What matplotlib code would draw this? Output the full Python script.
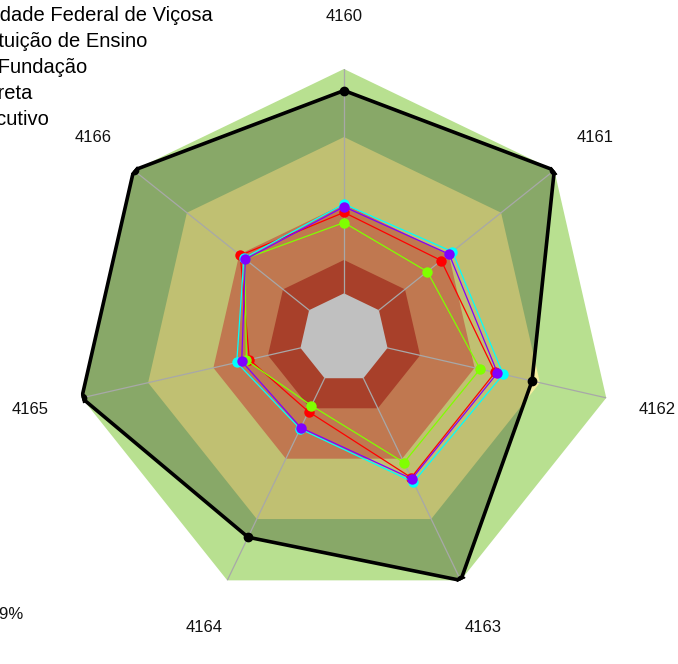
import numpy as np
import matplotlib
matplotlib.use("Agg")
import matplotlib.pyplot as plt
from matplotlib.lines import Line2D

plt.rcParams['font.family'] = ['Liberation Sans', 'DejaVu Sans']

# ---------------- data ----------------
categories = ['4160', '4161', '4162', '4163', '4164', '4165', '4166']

band_levels = [1.0, 0.747, 0.498, 0.29, 0.166]
band_colors = ['#B8E090', '#C0C072', '#C07850', '#A8402A', '#C0C0C0']

ufv = [0.92, 1.0, 0.717, 1.0, 0.822, 1.0, 1.0]
inst_ensino = [0.498, 0.515, 0.607, 0.595, 0.375, 0.409, 0.476]
fundacao = [0.488, 0.50, 0.585, 0.581, 0.37, 0.39, 0.469]
direta = [0.467, 0.462, 0.576, 0.576, 0.304, 0.361, 0.493]
executivo = [0.429, 0.396, 0.519, 0.514, 0.279, 0.372, 0.472]

legend_labels = ['Universidade Federal de Viçosa', 'Via Instituição de Ensino',
                 'Gestão Fundação', 'Ação Direta', 'Via Executivo']
note_text = 'Média geral: 79%'

# ---------------- figure ----------------
W, H = 678, 664
fig = plt.figure(figsize=(W / 100, H / 100), dpi=100)
cx, cy, R = 344, 338, 269
ax = fig.add_axes([(cx - R) / W, (H - cy - R) / H, 2 * R / W, 2 * R / H], projection='polar')
ax.set_theta_offset(np.pi / 2)
ax.set_theta_direction(-1)
ax.set_ylim(0, 1)
ax.axis('off')

n = len(categories)
theta = np.linspace(0, 2 * np.pi, n, endpoint=False)


def closed(vals):
    v = list(vals)
    return np.append(theta, theta[0]), np.array(v + [v[0]])


# outer light-green band
t, r = closed([band_levels[0]] * n)
ax.fill(t, r, color=band_colors[0], lw=0, zorder=1)
# pale yellow showing where the khaki band exceeds the UFV polygon
t, r = closed([band_levels[1]] * n)
ax.fill(t, r, color='#F6EEA0', lw=0, zorder=2)
# UFV polygon filled dark olive
t, r = closed(ufv)
olive = ax.fill(t, r, color='#88A868', lw=0, zorder=3)[0]
# khaki band (clipped to the UFV polygon)
t, r = closed([band_levels[1]] * n)
kh = ax.fill(t, r, color=band_colors[1], lw=0, zorder=4)[0]
kh.set_clip_path(olive)
# inner bands
for lvl, col, z in zip(band_levels[2:], band_colors[2:], [5, 6, 7]):
    t, r = closed([lvl] * n)
    ax.fill(t, r, color=col, lw=0, zorder=z)

# spokes
for th in theta:
    ax.plot([th, th], [band_levels[-1], 1.0], color='#A8A8A8', lw=0.9, zorder=8)

# series
series = [(direta, '#FF0000'), (executivo, '#80FF00'),
          (inst_ensino, '#00FFFF'), (fundacao, '#8000FF')]
for i, (vals, col) in enumerate(series):
    t, r = closed(vals)
    ax.plot(t, r, color=col, lw=0.9, zorder=10 + i)
    ax.plot(theta, vals, ls='none', marker='o', ms=7.5, color=col, mec='none', zorder=10 + i)

t, r = closed(ufv)
ax.plot(t, r, color='black', lw=2.6, zorder=20)
ax.plot(theta, ufv, ls='none', marker='o', ms=6, color='black', zorder=21)

# category labels
for th, lab in zip(theta, categories):
    ax.text(th, 1.195, lab, ha='center', va='center', fontsize=12, color='#111111')

# legend (partially outside the canvas, as in the reference)
handles = [Line2D([], [], color='black', lw=2.6, marker='o'),
           Line2D([], [], color='#00FFFF', marker='o'),
           Line2D([], [], color='#8000FF', marker='o'),
           Line2D([], [], color='#FF0000', marker='o'),
           Line2D([], [], color='#80FF00', marker='o')]
fs = 14.5
fig.legend(handles, legend_labels, loc='upper left',
           bbox_to_anchor=(-129 / W, 1 - 6 / H), frameon=False, fontsize=fs,
           handlelength=2.0, handletextpad=0.8, borderpad=0, borderaxespad=0,
           labelspacing=0.35)

fig.text(23 / W, 1 - 615 / H, note_text, ha='right', va='center', fontsize=12, color='#111111')

fig.savefig('out.png', dpi=100)
